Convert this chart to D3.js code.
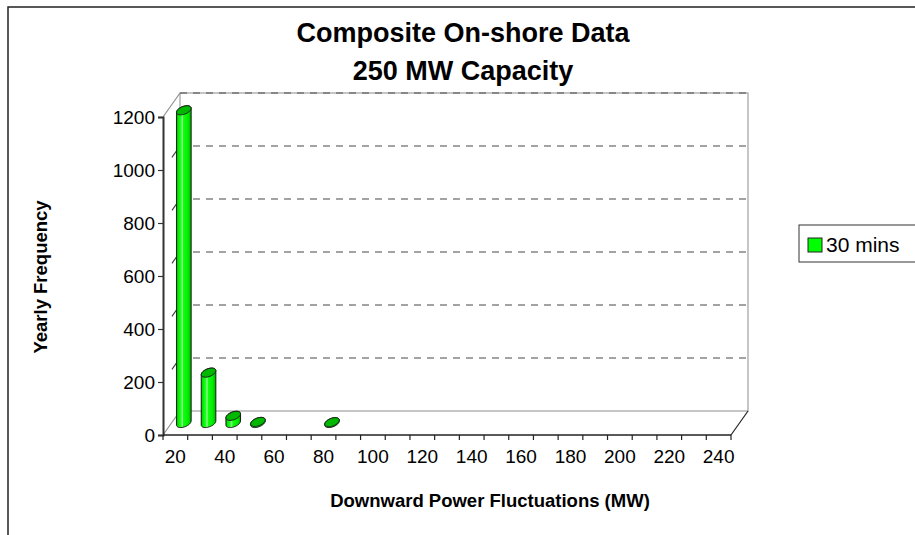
<!DOCTYPE html>
<html>
<head>
<meta charset="utf-8">
<script src="https://cdn.jsdelivr.net/npm/d3@7"></script>
<style>
  html, body { margin: 0; padding: 0; background: #fff; }
  svg { display: block; font-family: Arial, "Liberation Sans", sans-serif; }
</style>
</head>
<body>
<svg id="chart" width="915" height="535"></svg>
<script>
// Categories: downward power fluctuation bins (MW)
const categories = [20, 30, 40, 50, 60, 70, 80, 90, 100, 110, 120, 130, 140, 150, 160, 170, 180, 190, 200, 210, 220, 230, 240];
// Yearly frequency for the 30-minute window
const frequency = [1180, 190, 27, 4, 0, 0, 3, 0, 0, 0, 0, 0, 0, 0, 0, 0, 0, 0, 0, 0, 0, 0, 0];
// Value-axis tick labels
const yTicks = [0, 200, 400, 600, 800, 1000, 1200];
// Category labels shown on the axis (every other bin)
const xLabels = [20, 40, 60, 80, 100, 120, 140, 160, 180, 200, 220, 240];
const seriesName = "30 mins";

(function () {
const svg = d3.select("#chart");

// Outer chart-area frame
svg.append("rect").attr("x", 8).attr("y", 7).attr("width", 1000).attr("height", 1000)
  .attr("fill", "none").attr("stroke", "#222").attr("stroke-width", 1.5);

// Plot geometry with oblique depth offset
const plotLeft = 163, plotRight = 731, plotTop = 117, plotBase = 435;
const dx = 17, dy = -24;

const x = d3.scaleBand().domain(categories).range([plotLeft, plotRight]).padding(0);
const y = d3.scaleLinear().domain([0, 1200]).range([plotBase, plotTop]);

const defs = svg.append("defs");
const grad = defs.append("linearGradient").attr("id", "cyl").attr("x1", "0%").attr("x2", "100%").attr("y1", "0%").attr("y2", "0%");
[["0%", "#00b400"], ["12%", "#00f000"], ["30%", "#20ff20"], ["40%", "#9cff9c"], ["47%", "#10ff10"], ["80%", "#00ec00"], ["100%", "#00a800"]]
  .forEach(([o, c]) => grad.append("stop").attr("offset", o).attr("stop-color", c));

const walls = svg.append("g");
const y0 = y(0), yMax = y(1200);

// Back wall
walls.append("rect")
  .attr("x", plotLeft + dx).attr("y", yMax + dy)
  .attr("width", plotRight - plotLeft).attr("height", y0 - yMax)
  .attr("fill", "none").attr("stroke", "#a0a0a0").attr("stroke-width", 1.2);

// Side wall edges
walls.append("line").attr("x1", plotLeft).attr("y1", yMax).attr("x2", plotLeft + dx).attr("y2", yMax + dy)
  .attr("stroke", "#909090").attr("stroke-width", 1.2);
walls.append("line").attr("x1", plotLeft).attr("y1", y0).attr("x2", plotLeft + dx).attr("y2", y0 + dy)
  .attr("stroke", "#909090").attr("stroke-width", 1.2);
// Floor right edge
walls.append("line").attr("x1", plotRight).attr("y1", y0).attr("x2", plotRight + dx).attr("y2", y0 + dy)
  .attr("stroke", "#222").attr("stroke-width", 1.2);

// Gridlines on back wall and side wall
const gridVals = yTicks.filter(v => v > 0);
walls.selectAll("line.grid").data(gridVals).join("line")
  .attr("class", "grid")
  .attr("x1", plotLeft + dx).attr("x2", plotRight + dx)
  .attr("y1", d => y(d) + dy).attr("y2", d => y(d) + dy)
  .attr("stroke", "#484848").attr("stroke-width", 1.1)
  .attr("stroke-dasharray", "7,6");
walls.selectAll("line.sgrid").data(gridVals.filter(v => v < 1200)).join("line")
  .attr("class", "sgrid")
  .attr("x1", plotLeft).attr("y1", d => y(d))
  .attr("x2", plotLeft + dx).attr("y2", d => y(d) + dy)
  .attr("stroke", "#404040").attr("stroke-width", 1.1)
  .attr("stroke-dasharray", "0,15.5,8.5,40");

// Cylinders
const bw = x.bandwidth();
const ra = bw * 0.265;
const rb = [dx * 0.19, dy * 0.19];
const t0 = Math.atan2(rb[0], ra);
function ellPt(cx, cy, t) {
  return [cx + ra * Math.cos(t) + rb[0] * Math.sin(t), cy + rb[1] * Math.sin(t)];
}
function ellipsePath(cx, cy) {
  const pts = d3.range(0, 49).map(i => ellPt(cx, cy, i / 48 * 2 * Math.PI));
  return d3.line()(pts) + "Z";
}
function bodyPath(cx, yb, yt) {
  const n = 24;
  const front = d3.range(0, n + 1).map(i => ellPt(cx, yb, t0 + Math.PI + i / n * Math.PI));
  const back = d3.range(0, n + 1).map(i => ellPt(cx, yt, t0 + i / n * Math.PI));
  return d3.line()(front.concat(back)) + "Z";
}

const bars = svg.append("g");
categories.forEach((c, i) => {
  const v = frequency[i];
  if (!(v > 0)) return;
  const cx = x(c) + bw / 2 + dx / 2;
  const yb = y(0) + dy / 2;
  const yt = y(v) + dy / 2;
  bars.append("path").attr("d", bodyPath(cx, yb, yt))
    .attr("fill", "url(#cyl)").attr("stroke", "#1a1a1a").attr("stroke-width", 1);
  bars.append("path").attr("d", ellipsePath(cx, yt))
    .attr("fill", "#00b800").attr("stroke", "#1a1a1a").attr("stroke-width", 1);
});

// Value axis
const yAxis = svg.append("g").attr("transform", `translate(${plotLeft},0)`)
  .call(d3.axisLeft(y).tickValues(yTicks).tickSize(5).tickPadding(3).tickFormat(d3.format("d")));
yAxis.select(".domain").attr("stroke", "#333").attr("stroke-width", 2);
yAxis.selectAll(".tick line").attr("stroke", "#333").attr("stroke-width", 1.2);
yAxis.selectAll("text").attr("font-size", 19).attr("fill", "#000").attr("font-family", "Arial, 'Liberation Sans', sans-serif");

// Category axis: ticks at bin boundaries, labels at bin centres
const xg = svg.append("g");
xg.append("line").attr("x1", plotLeft).attr("x2", plotRight).attr("y1", y0).attr("y2", y0)
  .attr("stroke", "#222").attr("stroke-width", 1.5);
const bounds = categories.map(c => x(c)).concat([plotRight]);
xg.selectAll("line.tk").data(bounds).join("line").attr("class", "tk")
  .attr("x1", d => d).attr("x2", d => d).attr("y1", y0).attr("y2", y0 + 5)
  .attr("stroke", "#222").attr("stroke-width", 1.2);
xg.selectAll("text").data(xLabels).join("text")
  .attr("x", d => x(d) + bw / 2).attr("y", y0 + 28)
  .attr("text-anchor", "middle").attr("font-size", 19).attr("fill", "#000")
  .text(d => d);

// Titles
const title = svg.append("text").attr("x", 463).attr("text-anchor", "middle")
  .attr("font-size", 27).attr("font-weight", "bold").attr("fill", "#000");
title.append("tspan").attr("x", 463).attr("y", 42).text("Composite On-shore Data");
title.append("tspan").attr("x", 463).attr("y", 80).text("250 MW Capacity");

svg.append("text").attr("x", 490).attr("y", 507).attr("text-anchor", "middle")
  .attr("font-size", 18.5).attr("font-weight", "bold").text("Downward Power Fluctuations (MW)");

svg.append("text").attr("transform", "translate(47,277) rotate(-90)").attr("text-anchor", "middle")
  .attr("font-size", 18.5).attr("font-weight", "bold").text("Yearly Frequency");

// Legend
const lg = svg.append("g");
lg.append("rect").attr("x", 799).attr("y", 225).attr("width", 140).attr("height", 37)
  .attr("fill", "#fff").attr("stroke", "#333").attr("stroke-width", 1);
lg.append("rect").attr("x", 808).attr("y", 238).attr("width", 14).attr("height", 14)
  .attr("fill", "#00ff00").attr("stroke", "#222").attr("stroke-width", 1);
lg.append("text").attr("x", 826).attr("y", 252).attr("font-size", 21).text(seriesName);
})();
</script>
</body>
</html>
